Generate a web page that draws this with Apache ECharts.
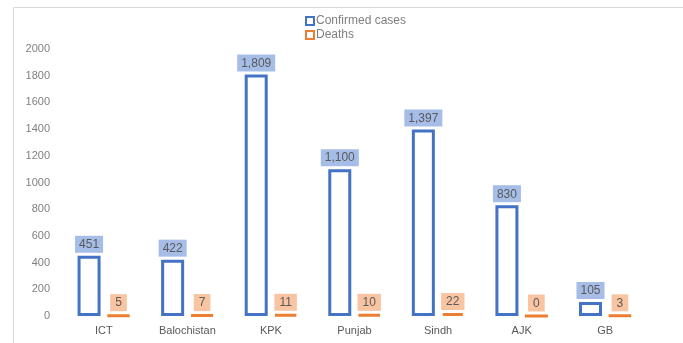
<!DOCTYPE html>
<html>
<head>
<meta charset="utf-8">
<script src="https://cdn.jsdelivr.net/npm/echarts@6/dist/echarts.min.js"></script>
<style>
  html, body { margin: 0; padding: 0; background: #fff; }
  #main { width: 683px; height: 343px; }
</style>
</head>
<body>
<div id="main"></div>
<script>
// regions and counts
const regions = ["ICT", "Balochistan", "KPK", "Punjab", "Sindh", "AJK", "GB"];
const confirmedCases = [451, 422, 1809, 1100, 1397, 830, 105];
const deaths = [5, 7, 11, 10, 22, 0, 3];

const chart = echarts.init(document.getElementById("main"));
const font = "Liberation Sans";

const option = {
    backgroundColor: "#fff",
    animation: false,
    textStyle: { fontFamily: font },
    graphic: [
        {
            type: "rect",
            shape: { x: 13.5, y: 7.5, width: 700, height: 400 },
            style: { fill: "none", stroke: "#d9d9d9", lineWidth: 1 }
        }
    ],
    legend: {
        orient: "vertical",
        left: 300,
        top: 10,
        itemWidth: 8,
        itemHeight: 8,
        itemGap: 2,
        icon: "rect",
        textStyle: { color: "#7f7f7f", fontSize: 12, fontFamily: font, padding: [0, 0, 0, -3] }
    },
    grid: { left: 62, right: 36, top: 49, bottom: 27 },
    xAxis: {
        type: "category",
        data: regions,
        axisLine: { show: false },
        axisTick: { show: false },
        axisLabel: { color: "#595959", fontSize: 11, margin: 9 }
    },
    yAxis: {
        type: "value",
        min: 0,
        max: 2000,
        interval: 200,
        axisLine: { show: false },
        axisTick: { show: false },
        splitLine: { show: false },
        axisLabel: { color: "#7f7f7f", fontSize: 11, margin: 12, formatter: v => String(v) }
    },
    series: [
        {
            name: "Confirmed cases",
            type: "bar",
            data: confirmedCases,
            barWidth: 23,
            barGap: "28%",
            itemStyle: { color: "#fff", borderColor: "#4472c4", borderWidth: 3 },
            label: {
                show: true,
                position: "top",
                distance: 3,
                color: "#595959",
                fontSize: 12,
                backgroundColor: "#a6bde8",
                padding: [3, 4, 2, 4],
                formatter: p => p.value.toLocaleString("en-US")
            }
        },
        {
            name: "Deaths",
            type: "bar",
            data: deaths,
            barWidth: 23,
            itemStyle: { color: "#fff", borderColor: "#ed7d31", borderWidth: 3 },
            label: {
                show: true,
                position: "top",
                distance: 3,
                color: "#595959",
                fontSize: 12,
                backgroundColor: "#f8c4a1",
                padding: [3, 5, 2, 5],
                formatter: p => p.value.toLocaleString("en-US")
            }
        }
    ]
};

chart.setOption(option);
</script>
</body>
</html>
